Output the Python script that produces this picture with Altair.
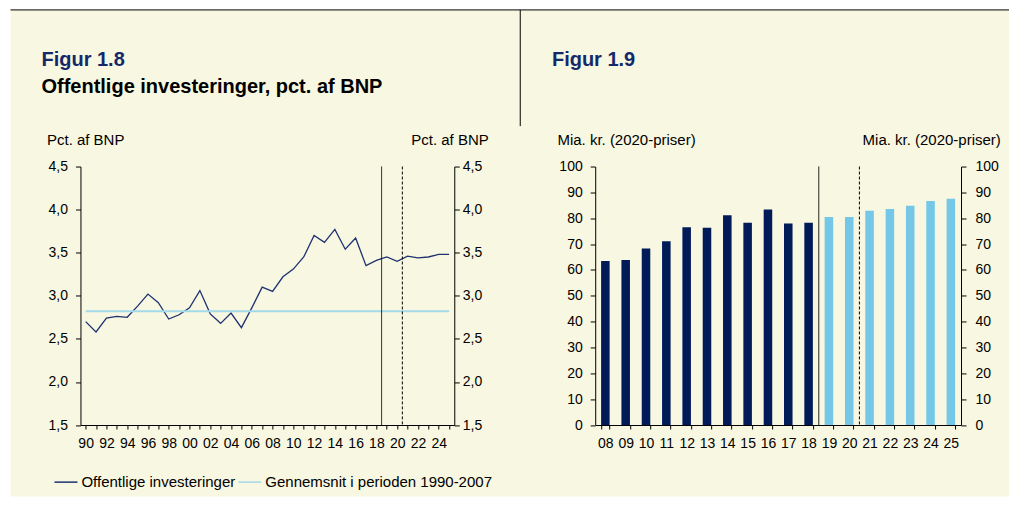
import altair as alt
import pandas as pd

# ---------------- data ----------------
inv_years = list(range(1990, 2026))
inv_values = [2.70, 2.58, 2.74, 2.76, 2.75, 2.88, 3.02, 2.92, 2.73, 2.78,
              2.86, 3.06, 2.79, 2.68, 2.80, 2.63, 2.86, 3.10, 3.05, 3.22,
              3.31, 3.45, 3.70, 3.62, 3.77, 3.54, 3.67, 3.35, 3.41, 3.45,
              3.40, 3.46, 3.44, 3.45, 3.48, 3.48]
avg_years = [1990, 2025]
avg_value = 2.82
series_names = ["Offentlige investeringer", "Gennemsnit i perioden 1990-2007"]

bar_labels = ["08", "09", "10", "11", "12", "13", "14", "15", "16",
              "17", "18", "19", "20", "21", "22", "23", "24", "25"]
bar_values = [63.5, 63.8, 68.3, 71.1, 76.5, 76.3, 81.2, 78.3, 83.4,
              78.0, 78.3, 80.5, 80.5, 82.9, 83.6, 84.8, 86.7, 87.5]
bar_kind = ["Faktisk"] * 11 + ["Prognose"] * 7

break_years = [2018.5, 2020.5]
break_styles = ["solid", "dashed"]

left_y_ticks = [1.5, 2.0, 2.5, 3.0, 3.5, 4.0, 4.5]
right_y_ticks = [0, 10, 20, 30, 40, 50, 60, 70, 80, 90, 100]

# ---------------- style ----------------
CREAM = "#F8F7E1"
NAVY_LINE = "#1E3272"
LIGHT_LINE = "#A3DAEA"
NAVY_BAR = "#011B59"
LIGHT_BAR = "#74C7E7"
TITLE_NAVY = "#14296A"
FONT = "Liberation Sans"
W1, W2, H = 374, 366, 258.6
NUM_FS = 14
TXT_FS = 15

one = alt.Data(values=[{}])

df_inv = pd.DataFrame({"year": inv_years, "value": inv_values, "series": series_names[0]})
df_avg = pd.DataFrame({"year": avg_years, "value": [avg_value] * len(avg_years), "series": series_names[1]})
df_brk = pd.DataFrame({"year": break_years, "style": break_styles})
df_bar = pd.DataFrame({"yr": bar_labels, "val": bar_values, "kind": bar_kind})

comma_expr = "replace(format(datum.value, '.1f'), '.', ',')"

common_axis = dict(zindex=1, grid=False, domainColor="#000", tickColor="#000",
                   labelColor="#000", titleColor="#000", labelFontSize=NUM_FS,
                   titleFontSize=TXT_FS, titleFontWeight="normal",
                   labelFont=FONT, titleFont=FONT)

x_scale_l = alt.Scale(domain=[1989.5, 2025.5], nice=False, zero=False)
y_scale_l = alt.Scale(domain=[1.5, 4.5], nice=False, zero=False)
x_axis_l = alt.Axis(values=inv_years, title=None, tickSize=4, labelPadding=8,
                    labelFlush=False, labelOverlap=False,
                    labelExpr="datum.value % 2 == 0 ? format(datum.value % 100, '02d') : ''",
                    **common_axis)
color_l = alt.Scale(domain=series_names, range=[NAVY_LINE, LIGHT_LINE])
legend_l = alt.Legend(title=None, orient="none", legendX=-27, legendY=303,
                      direction="horizontal", symbolType="stroke", symbolSize=529,
                      symbolStrokeWidth=1.5, labelFontSize=TXT_FS, labelOffset=3,
                      labelLimit=500, labelFont=FONT,
                      columnPadding=0, padding=0, zindex=1, labelColor="#000")
dash_scale = alt.Scale(domain=["solid", "dashed"], range=[[1, 0], [3, 2]])

# ---------------- left panel ----------------
bg = alt.Chart(one).mark_rect(color=CREAM).encode(
    x=alt.value(-70), x2=alt.value(929), y=alt.value(-156.7), y2=alt.value(330))
top_rule = alt.Chart(one).mark_rule(color="black", strokeWidth=1).encode(
    x=alt.value(-70), x2=alt.value(929), y=alt.value(-156.7))
sep_rule = alt.Chart(one).mark_rule(color="black", strokeWidth=1).encode(
    x=alt.value(440), y=alt.value(-156.7), y2=alt.value(-40.4))
t1 = alt.Chart(one).mark_text(align="left", baseline="alphabetic", font=FONT,
                              fontSize=20, fontWeight="bold", color=TITLE_NAVY,
                              text="Figur 1.8").encode(x=alt.value(-39), y=alt.value(-101))
t1s = alt.Chart(one).mark_text(align="left", baseline="alphabetic", font=FONT,
                               fontSize=20, fontWeight="bold", color="#000",
                               text="Offentlige investeringer, pct. af BNP").encode(
    x=alt.value(-39), y=alt.value(-73.7))

inv_line = alt.Chart(df_inv).mark_line(strokeWidth=1.3).encode(
    x=alt.X("year:Q", scale=x_scale_l, axis=x_axis_l),
    y=alt.Y("value:Q", scale=y_scale_l,
            axis=alt.Axis(orient="left", values=left_y_ticks, labelExpr=comma_expr,
                          tickSize=5, labelPadding=8,
                          title="Pct. af BNP", titleAngle=0, titleAlign="left",
                          titleBaseline="alphabetic", titleX=-34, titleY=-22,
                          **common_axis)),
    color=alt.Color("series:N", scale=color_l, legend=legend_l))
avg_line = alt.Chart(df_avg).mark_line(strokeWidth=2).encode(
    x=alt.X("year:Q", scale=x_scale_l, axis=x_axis_l),
    y=alt.Y("value:Q", scale=y_scale_l,
            axis=alt.Axis(orient="right", values=left_y_ticks, labelExpr=comma_expr,
                          tickSize=5, labelPadding=3,
                          title="Pct. af BNP", titleAngle=0, titleAlign="right",
                          titleBaseline="alphabetic", titleX=34, titleY=-22,
                          **common_axis)),
    color=alt.Color("series:N", scale=color_l, legend=legend_l))
vrules_l = alt.Chart(df_brk).mark_rule(color="black", strokeWidth=1).encode(
    x=alt.X("year:Q", scale=x_scale_l, axis=x_axis_l),
    strokeDash=alt.StrokeDash("style:N", scale=dash_scale, legend=None))

left = alt.layer(bg, top_rule, sep_rule, t1, t1s, inv_line, avg_line, vrules_l).resolve_axis(
    y="independent").properties(width=W1, height=H)

# ---------------- right panel ----------------
t2 = alt.Chart(one).mark_text(align="left", baseline="alphabetic", font=FONT,
                              fontSize=20, fontWeight="bold", color=TITLE_NAVY,
                              text="Figur 1.9").encode(x=alt.value(-43.3), y=alt.value(-101))

band = alt.Scale(paddingInner=0.58, paddingOuter=0.29)
y_scale_r = alt.Scale(domain=[0, 100], nice=False)
bar_color = alt.Color("kind:N", scale=alt.Scale(domain=["Faktisk", "Prognose"],
                                                range=[NAVY_BAR, LIGHT_BAR]), legend=None)
bars = alt.Chart(df_bar).mark_bar().encode(
    x=alt.X("yr:N", sort=bar_labels, scale=band,
            axis=alt.Axis(title=None, labelAngle=0, tickBand="extent", tickSize=4,
                          labelPadding=8, **common_axis)),
    y=alt.Y("val:Q", scale=y_scale_r,
            axis=alt.Axis(orient="left", values=right_y_ticks, tickSize=5, labelPadding=8,
                          title="Mia. kr. (2020-priser)", titleAngle=0,
                          titleAlign="left", titleBaseline="alphabetic",
                          titleX=-38.3, titleY=-22, **common_axis)),
    color=bar_color)
bars_r = alt.Chart(df_bar).mark_bar(opacity=0).encode(
    x=alt.X("yr:N", sort=bar_labels, scale=band, axis=None),
    y=alt.Y("val:Q", scale=y_scale_r,
            axis=alt.Axis(orient="right", values=right_y_ticks, tickSize=5, labelPadding=9,
                          title="Mia. kr. (2020-priser)", titleAngle=0,
                          titleAlign="right", titleBaseline="alphabetic",
                          titleX=39.3, titleY=-22, **common_axis)),
    color=bar_color)
vrules_r = alt.Chart(df_brk).mark_rule(color="black", strokeWidth=1).encode(
    x=alt.X("year:Q", scale=alt.Scale(domain=[2007.5, 2025.5], nice=False, zero=False), axis=None),
    strokeDash=alt.StrokeDash("style:N", scale=dash_scale, legend=None))

right = alt.layer(t2, bars, bars_r, vrules_r).resolve_scale(x="independent").resolve_axis(
    y="independent").properties(width=W2, height=H)

chart = alt.hconcat(left, right, spacing=141, bounds="flush").resolve_scale(
    color="independent").properties(
    padding={"left": 1.5, "top": 0.5, "right": 0, "bottom": 0}, background="white"
).configure(font=FONT).configure_view(stroke="transparent")

chart.save("out.html", embed_options={"renderer": "svg", "actions": False})
